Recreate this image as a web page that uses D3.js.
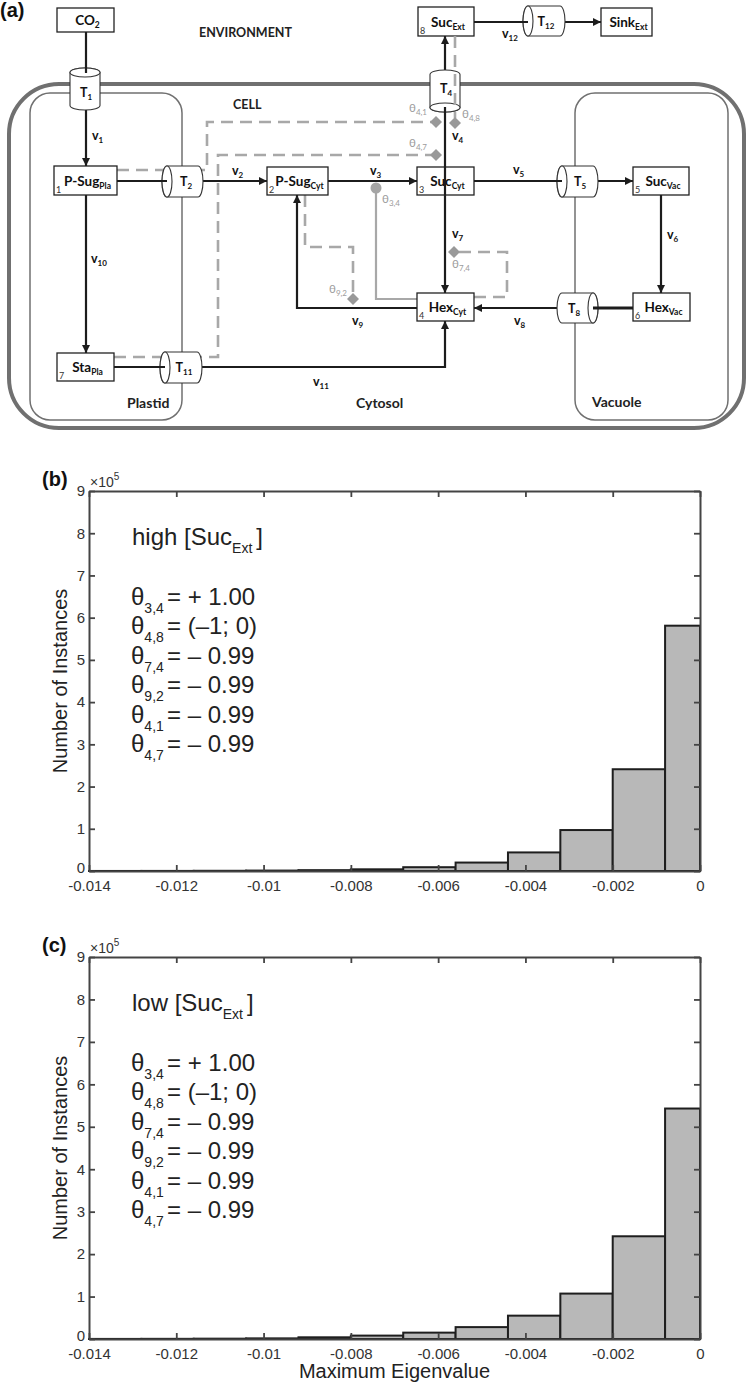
<!DOCTYPE html>
<html><head><meta charset="utf-8">
<script src="https://cdn.jsdelivr.net/npm/d3@7"></script>
<style>
html,body{margin:0;padding:0;background:#fff;}
svg{display:block;}
</style></head>
<body>
<script>
// ---------------- DATA ----------------
const binEdges = [-0.014, -0.0128, -0.0116, -0.0104, -0.0092, -0.008, -0.0068, -0.0056, -0.0044, -0.0032, -0.002, -0.0008, 0.0004];
const countsHigh = [0.001, 0.002, 0.005, 0.01, 0.02, 0.04, 0.09, 0.20, 0.44, 0.97, 2.41, 5.81]; // x10^5
const countsLow  = [0.002, 0.004, 0.008, 0.015, 0.04, 0.08, 0.15, 0.28, 0.55, 1.07, 2.42, 5.43]; // x10^5
const xTicks = [-0.014, -0.012, -0.01, -0.008, -0.006, -0.004, -0.002, 0];
const xTickLabels = ["-0.014", "-0.012", "-0.01", "-0.008", "-0.006", "-0.004", "-0.002", "0"];
const yTicks = [0, 1, 2, 3, 4, 5, 6, 7, 8, 9];
const paramSubs = ["3,4", "4,8", "7,4", "9,2", "4,1", "4,7"];
const paramValues = ["= + 1.00", "= (\u20131; 0)", "= \u2013 0.99", "= \u2013 0.99", "= \u2013 0.99", "= \u2013 0.99"];
const panelTitles = ["high [Suc", "low [Suc"];
const xLabel = "Maximum Eigenvalue";
const yLabel = "Number of Instances";

// diagram content
const boxes = [
  {id:"CO2", main:"CO", sub:"2", num:""},
  {id:"PSugPla", main:"P-Sug", sub:"Pla", num:"1"},
  {id:"PSugCyt", main:"P-Sug", sub:"Cyt", num:"2"},
  {id:"SucCyt", main:"Suc", sub:"Cyt", num:"3"},
  {id:"HexCyt", main:"Hex", sub:"Cyt", num:"4"},
  {id:"SucVac", main:"Suc", sub:"Vac", num:"5"},
  {id:"HexVac", main:"Hex", sub:"Vac", num:"6"},
  {id:"StaPla", main:"Sta", sub:"Pla", num:"7"},
  {id:"SucExt", main:"Suc", sub:"Ext", num:"8"},
  {id:"SinkExt", main:"Sink", sub:"Ext", num:""}
];
const transporters = ["1","2","4","5","8","11","12"];
const fluxes = ["1","2","3","4","5","6","7","8","9","10","11","12"];
const thetas = ["4,1","4,8","4,7","3,4","9,2","7,4"];

// ---------------- LAYOUT ----------------
const W = 750, H = 1385;
const svg = d3.select("body").append("svg").attr("width", W).attr("height", H);
const FD = "Lato, 'Open Sans', sans-serif";
const FP = "'Liberation Sans', Arial, Helvetica, sans-serif";

// ---------- Panel (a) diagram ----------
const A = svg.append("g");
const dark = "#1c1c1c", grayC = "#707070", grayD = "#a8a8a8", grayT = "#9c9c9c";

const defs = svg.append("defs");
defs.append("marker").attr("id","arr").attr("viewBox","0 0 10 10").attr("refX",10).attr("refY",5)
  .attr("markerWidth",9).attr("markerHeight",8).attr("markerUnits","userSpaceOnUse").attr("orient","auto")
  .append("path").attr("d","M0,0 L10,5 L0,10 z").attr("fill",dark);

A.append("text").attr("x",0).attr("y",17).attr("font-family",FP).attr("font-weight","bold")
  .attr("font-size",20).attr("fill","#111").text("(a)");

// compartments
A.append("rect").attr("x",9).attr("y",84).attr("width",735).attr("height",344).attr("rx",50)
  .attr("fill","none").attr("stroke",grayC).attr("stroke-width",4);
A.append("rect").attr("x",30).attr("y",93).attr("width",152).attr("height",327).attr("rx",20)
  .attr("fill","none").attr("stroke",grayC).attr("stroke-width",1.5);
A.append("rect").attr("x",575).attr("y",93).attr("width",153).attr("height",327).attr("rx",20)
  .attr("fill","none").attr("stroke",grayC).attr("stroke-width",1.5);

const region = [["ENVIRONMENT",199,37,12.5],["CELL",233,109,12.5],["Plastid",127,408,14],["Cytosol",356,408,14],["Vacuole",592,407,14]];
region.forEach(r => A.append("text").attr("x",r[1]).attr("y",r[2]).attr("font-family",FD)
  .attr("font-weight","bold").attr("font-size",r[3]).attr("fill","#222").text(r[0]));

// dashed regulation paths
const dashed = [
  [[117,170],[207,170],[207,122],[432,122]],
  [[114,357],[218,357],[218,155],[432,155]],
  [[305,195],[305,247],[353,247],[353,294]],
  [[474,297],[507,297],[507,252],[459,252]]
];
const line = d3.line();
dashed.forEach(p => A.append("path").attr("d",line(p)).attr("fill","none").attr("stroke",grayD)
  .attr("stroke-width",2.6).attr("stroke-dasharray","12,7"));
// solid gray theta34
A.append("path").attr("d",line([[376,190],[376,299],[417,299]])).attr("fill","none")
  .attr("stroke",grayD).attr("stroke-width",2.2);

// flux lines
const segs = [
  {p:[[86,32],[86,73]], a:false, top:true},
  {p:[[86,110],[86,166]], a:true},
  {p:[[86,195],[86,353]], a:true},
  {p:[[117,181],[167,181]], a:false, top:true},
  {p:[[203,181],[267,181]], a:true},
  {p:[[328,181],[417,181]], a:true},
  {p:[[445,195],[445,107]], a:false, top:true},
  {p:[[445,70],[445,36]], a:true},
  {p:[[474,22],[528,22]], a:false, top:true},
  {p:[[565,22],[601,22]], a:true},
  {p:[[474,181],[562,181]], a:false, top:true},
  {p:[[598,181],[633,181]], a:true},
  {p:[[661,195],[661,293]], a:true},
  {p:[[633,308],[593,308]], a:false, top:true, w:3},
  {p:[[557,308],[474,308]], a:true},
  {p:[[445,195],[445,293]], a:true},
  {p:[[417,308],[297,308],[297,195]], a:true},
  {p:[[114,367],[165,367]], a:false, top:true},
  {p:[[202,367],[445,367],[445,321]], a:true}
];
function drawSeg(s){
  const el = A.append("path").attr("d",line(s.p)).attr("fill","none").attr("stroke",dark)
    .attr("stroke-width",s.w||2.2);
  if (s.a) el.attr("marker-end","url(#arr)");
}
segs.filter(s=>!s.top).forEach(drawSeg);

// boxes
const boxPos = {
  CO2:[57,8,114,32], PSugPla:[54,166,117,195], PSugCyt:[267,167,328,195], SucCyt:[417,167,474,195],
  HexCyt:[417,293,474,321], SucVac:[633,167,689,195], HexVac:[633,293,690,321], StaPla:[57,353,114,381],
  SucExt:[418,7,474,36], SinkExt:[601,8,652,36]
};
boxes.forEach(b => {
  const [x0,y0,x1,y1] = boxPos[b.id];
  A.append("rect").attr("x",x0).attr("y",y0).attr("width",x1-x0).attr("height",y1-y0)
    .attr("fill","#fff").attr("stroke","#222").attr("stroke-width",1.3);
  const t = A.append("text").attr("x",(x0+x1)/2+2).attr("y",(y0+y1)/2+5).attr("text-anchor","middle")
    .attr("font-family",FD).attr("font-weight","bold").attr("font-size",13.5).attr("fill","#111");
  t.append("tspan").text(b.main);
  t.append("tspan").attr("font-size",8.5).attr("dy",3).text(b.sub);
  if (b.num) A.append("text").attr("x",x0+2).attr("y",y1-2).attr("font-family",FD)
    .attr("font-size",9).attr("fill","#333").text(b.num);
});

// cylinders
const cylPos = {
  "1":{o:"v", x0:70, x1:100, y0:68, y1:110, open:"top", lx:86, ly:97},
  "4":{o:"v", x0:430, x1:460, y0:70, y1:112, open:"bottom", lx:446, ly:93},
  "2":{o:"h", x0:162, x1:203, y0:166, y1:197, open:"left", lx:186, ly:186},
  "5":{o:"h", x0:557, x1:598, y0:166, y1:197, open:"left", lx:580, ly:186},
  "8":{o:"h", x0:557, x1:598, y0:293, y1:323, open:"right", lx:574, ly:313},
  "11":{o:"h", x0:160, x1:202, y0:352, y1:383, open:"left", lx:184, ly:372},
  "12":{o:"h", x0:523, x1:565, y0:6, y1:36, open:"left", lx:546, ly:26}
};
transporters.forEach(k => {
  const c = cylPos[k];
  const st = {fill:"#fff", stroke:"#333", sw:1.1};
  let body, ell;
  if (c.o === "h") {
    const r = 5, cy = (c.y0+c.y1)/2, ry = (c.y1-c.y0)/2;
    body = `M${c.x0+r},${c.y0} L${c.x1-r},${c.y0} A${r},${ry} 0 0 1 ${c.x1-r},${c.y1} L${c.x0+r},${c.y1} A${r},${ry} 0 0 1 ${c.x0+r},${c.y0} Z`;
    const ex = c.open === "left" ? c.x0+r : c.x1-r;
    ell = [ex, cy, r, ry];
  } else {
    const r = 4.5, cx = (c.x0+c.x1)/2, rx = (c.x1-c.x0)/2;
    body = `M${c.x0},${c.y0+r} L${c.x0},${c.y1-r} A${rx},${r} 0 0 0 ${c.x1},${c.y1-r} L${c.x1},${c.y0+r} A${rx},${r} 0 0 0 ${c.x0},${c.y0+r} Z`;
    const ey = c.open === "top" ? c.y0+r : c.y1-r;
    ell = [cx, ey, rx, r];
  }
  A.append("path").attr("d",body).attr("fill",st.fill).attr("stroke",st.stroke).attr("stroke-width",st.sw);
  A.append("ellipse").attr("cx",ell[0]).attr("cy",ell[1]).attr("rx",ell[2]).attr("ry",ell[3])
    .attr("fill","#fff").attr("stroke",st.stroke).attr("stroke-width",st.sw);
  const t = A.append("text").attr("x",c.lx).attr("y",c.ly).attr("text-anchor","middle")
    .attr("font-family",FD).attr("font-weight","bold").attr("font-size",12.5).attr("fill","#111");
  t.append("tspan").text("T");
  t.append("tspan").attr("font-size",8).attr("dy",3).text(k);
});
segs.filter(s=>s.top).forEach(drawSeg);
// dashed theta48 line runs in front of T4
A.append("path").attr("d",line([[455,36],[455,118]])).attr("fill","none").attr("stroke",grayD)
  .attr("stroke-width",2.6).attr("stroke-dasharray","12,7");

// flux labels
const vPos = {"1":[92,140],"2":[232,175],"3":[370,175],"4":[452,140],"5":[513,174],"6":[667,239],
  "7":[452,238],"8":[514,325],"9":[352,325],"10":[91,263],"11":[313,386],"12":[502,38]};
fluxes.forEach(k => {
  const t = A.append("text").attr("x",vPos[k][0]).attr("y",vPos[k][1]).attr("font-family",FD)
    .attr("font-weight","bold").attr("font-size",12.5).attr("fill","#111");
  t.append("tspan").text("v");
  t.append("tspan").attr("font-size",8).attr("dy",3).text(k);
});

// theta markers
const thDiamond = {"4,1":[436,122],"4,8":[455,123],"4,7":[436,155],"9,2":[353,299],"7,4":[454,252]};
Object.entries(thDiamond).forEach(([k,[x,y]]) => {
  A.append("path").attr("d",`M${x},${y-6} L${x+6},${y} L${x},${y+6} L${x-6},${y} Z`).attr("fill","#999");
});
A.append("circle").attr("cx",376).attr("cy",188).attr("r",5.5).attr("fill","#a5a5a5");
const thLab = {"4,1":[409,112],"4,8":[462,118],"4,7":[409,147],"3,4":[382,203],"9,2":[329,293],"7,4":[452,268]};
thetas.forEach(k => {
  const t = A.append("text").attr("x",thLab[k][0]).attr("y",thLab[k][1]).attr("font-family",FD)
    .attr("font-size",11.5).attr("fill",grayT);
  t.append("tspan").text("\u03b8");
  t.append("tspan").attr("font-size",8).attr("dy",3).text(k);
});

// ---------- Panels (b), (c) histograms ----------
const x = d3.scaleLinear().domain([-0.014, 0]).range([89, 700]).clamp(true);

function histogram(top, bottom, counts, title, panel, showXLabel){
  const g = svg.append("g");
  const y = d3.scaleLinear().domain([0, 9]).range([bottom, top]);
  // bars
  g.selectAll("rect.bar").data(counts).enter().append("rect").attr("class","bar")
    .attr("x", (d,i) => x(binEdges[i]))
    .attr("width", (d,i) => x(binEdges[i+1]) - x(binEdges[i]))
    .attr("y", d => y(d)).attr("height", d => y(0) - y(d))
    .attr("fill","#b8b8b8").attr("stroke","#1e1e1e").attr("stroke-width",2);

  const axColor = "#444";
  const xb = g.append("g").attr("transform",`translate(0,${bottom})`)
    .call(d3.axisBottom(x).tickValues(xTicks).tickFormat((d,i)=>xTickLabels[i]).tickSize(-6).tickSizeOuter(0).tickPadding(9));
  const xt = g.append("g").attr("transform",`translate(0,${top})`)
    .call(d3.axisTop(x).tickValues(xTicks).tickFormat("").tickSize(-6).tickSizeOuter(0));
  const yl = g.append("g").attr("transform",`translate(89,0)`)
    .call(d3.axisLeft(y).tickValues(yTicks).tickFormat(d3.format("d")).tickSize(-6).tickSizeOuter(0).tickPadding(4));
  const yr = g.append("g").attr("transform",`translate(700,0)`)
    .call(d3.axisRight(y).tickValues(yTicks).tickFormat("").tickSize(-6).tickSizeOuter(0));
  [xb,xt,yl,yr].forEach(a => {
    a.selectAll("path.domain").attr("stroke",axColor).attr("stroke-width",2);
    a.selectAll(".tick line").attr("stroke",axColor).attr("stroke-width",1.8);
    a.selectAll("text").attr("font-family",FP).attr("font-size",15).attr("fill","#333");
  });
  yl.selectAll(".tick text").filter(d => d === 0).attr("dy","0.08em");

  // exponent
  const e = g.append("text").attr("x",90).attr("y",top-4).attr("font-family",FP).attr("font-size",14).attr("fill","#333");
  e.append("tspan").text("\u00d710");
  e.append("tspan").attr("font-size",10).attr("dy",-7).text("5");

  // panel label
  g.append("text").attr("x",42).attr("y",top-5).attr("font-family",FP).attr("font-weight","bold")
    .attr("font-size",20).attr("fill","#111").text(panel);

  // y label
  g.append("text").attr("transform",`translate(67,${(top+bottom)/2}) rotate(-90)`).attr("text-anchor","middle")
    .attr("font-family",FP).attr("font-size",20).attr("fill","#222").text(yLabel);
  if (showXLabel)
    g.append("text").attr("x",(89+700)/2).attr("y",bottom+39).attr("text-anchor","middle")
      .attr("font-family",FP).attr("font-size",20).attr("fill","#222").text(xLabel);

  // annotation
  const h = g.append("text").attr("x",132).attr("y",top+54).attr("font-family",FP).attr("font-size",24).attr("fill","#222");
  h.append("tspan").text(title);
  h.append("tspan").attr("font-size",14).attr("dy",8).text("Ext");
  h.append("tspan").attr("dy",-8).attr("dx",4).text("]");
  paramSubs.forEach((s,i) => {
    const t = g.append("text").attr("x",131).attr("y",top+114+i*29.4).attr("font-family",FP)
      .attr("font-size",24).attr("fill","#222");
    t.append("tspan").text("\u03b8");
    t.append("tspan").attr("font-size",14).attr("dy",8).text(s);
    t.append("tspan").attr("x",167).attr("dy",-8).text(paramValues[i]);
  });
}

histogram(491, 871, countsHigh, panelTitles[0], "(b)", false);
histogram(957, 1339, countsLow, panelTitles[1], "(c)", true);
</script>
</body></html>
